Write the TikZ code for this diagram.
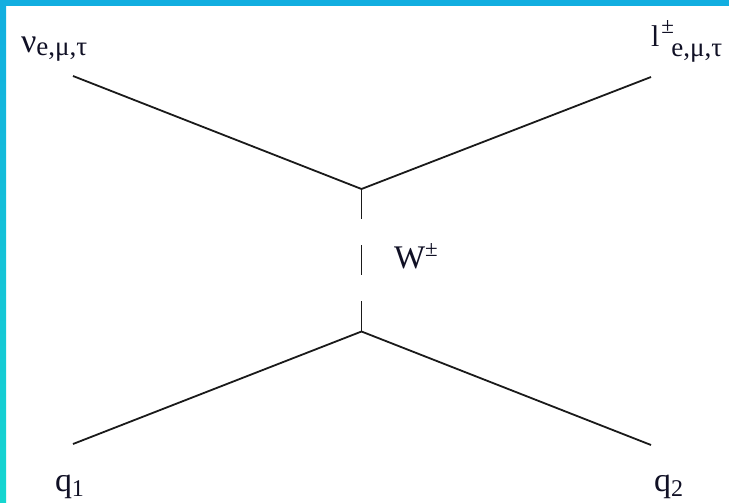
\documentclass[tikz,border=0pt]{standalone}
\usepackage{fontspec}
\setmainfont{Liberation Serif}
\newfontfamily\lblfont{Liberation Serif}
\definecolor{topband}{HTML}{12AEE0}
\definecolor{botband}{HTML}{15D6D0}
\definecolor{ink}{HTML}{101025}
\definecolor{linecol}{HTML}{1A1A1A}
\begin{document}
\begin{tikzpicture}[x=1pt,y=-1pt,
  fline/.style={line width=1.8pt, draw=linecol},
  wline/.style={fline, dash pattern=on 30pt off 26pt},
  lbl/.style={anchor=base west, inner sep=0pt, outer sep=0pt, text=ink, font=\lblfont}]
\useasboundingbox (0,0) rectangle (729,503);
\fill[white] (0,0) rectangle (729,503);
\fill[topband] (0,0) rectangle (729,6);
\shade[top color=topband, bottom color=botband] (0,0) rectangle (6,503);
\coordinate (v1) at (361.5,189);
\coordinate (v2) at (361.5,331.5);
\coordinate (nuend) at (73,76);
\coordinate (lend) at (651,77);
\coordinate (q1end) at (73,444);
\coordinate (q2end) at (651,445);
\draw[fline] (nuend) -- (v1) -- (lend);
\draw[fline] (q1end) -- (v2) -- (q2end);
\draw[wline] (v1) -- (v2);
\node[lbl] (nu) at (21,53) {\fontsize{34}{34}\selectfont ν\raisebox{-3pt}{\fontsize{27}{27}\selectfont e,μ,τ}};
\node[lbl] (lep) at (651,47) {\fontsize{30}{30}\selectfont l\rlap{\hspace{2pt}\raisebox{13.5pt}{\fontsize{23}{23}\selectfont ±}}\hspace{12pt}\raisebox{-10pt}{\fontsize{27}{27}\selectfont e,μ,τ}};
\node[lbl] (W) at (394,268) {\fontsize{33}{33}\selectfont W\raisebox{12pt}{\fontsize{23}{23}\selectfont ±}};
\node[lbl] (q1) at (55,491) {\fontsize{34}{34}\selectfont q\raisebox{-5pt}{\fontsize{24}{24}\selectfont 1}};
\node[lbl] (q2) at (654,491) {\fontsize{34}{34}\selectfont q\raisebox{-5pt}{\fontsize{24}{24}\selectfont 2}};
\end{tikzpicture}
\end{document}
